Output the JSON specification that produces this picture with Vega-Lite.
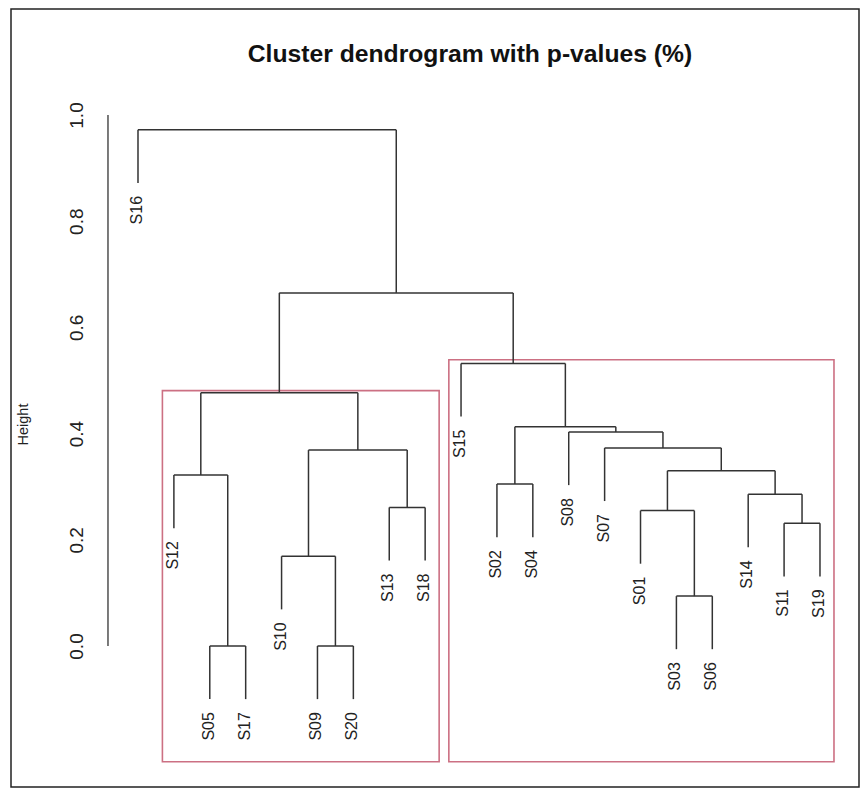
{
  "$schema": "https://vega.github.io/schema/vega-lite/v6.json",
  "width": 848,
  "height": 778,
  "padding": {"left": 11, "top": 9, "right": 4, "bottom": 1},
  "autosize": {"type": "none"},
  "background": "white",
  "title": {
    "text": "Cluster dendrogram with p-values (%)",
    "font": "Liberation Sans",
    "fontSize": 24.7,
    "fontWeight": "bold",
    "color": "#111",
    "anchor": "middle",
    "frame": "group",
    "offset": 0,
    "baseline": "alphabetic",
    "dy": 78,
    "dx": 35
  },
  "config": {
    "view": {"stroke": "#222", "strokeWidth": 1.5},
    "font": "Liberation Sans"
  },
  "datasets": {
    "segments": [
      {"node": "A", "x": 3, "x2": 4, "y": 0, "y2": 0},
      {"node": "A", "x": 3, "x2": 3, "y": -0.1, "y2": 0},
      {"node": "A", "x": 4, "x2": 4, "y": -0.1, "y2": 0},
      {"node": "B", "x": 6, "x2": 7, "y": 0, "y2": 0},
      {"node": "B", "x": 6, "x2": 6, "y": -0.1, "y2": 0},
      {"node": "B", "x": 7, "x2": 7, "y": -0.1, "y2": 0},
      {"node": "C", "x": 5, "x2": 6.5, "y": 0.169, "y2": 0.169},
      {"node": "C", "x": 5, "x2": 5, "y": 0.069, "y2": 0.169},
      {"node": "C", "x": 6.5, "x2": 6.5, "y": 0, "y2": 0.169},
      {"node": "D", "x": 8, "x2": 9, "y": 0.261, "y2": 0.261},
      {"node": "D", "x": 8, "x2": 8, "y": 0.161, "y2": 0.261},
      {"node": "D", "x": 9, "x2": 9, "y": 0.161, "y2": 0.261},
      {"node": "E", "x": 5.75, "x2": 8.5, "y": 0.369, "y2": 0.369},
      {"node": "E", "x": 5.75, "x2": 5.75, "y": 0.169, "y2": 0.369},
      {"node": "E", "x": 8.5, "x2": 8.5, "y": 0.261, "y2": 0.369},
      {"node": "F", "x": 2, "x2": 3.5, "y": 0.322, "y2": 0.322},
      {"node": "F", "x": 2, "x2": 2, "y": 0.222, "y2": 0.322},
      {"node": "F", "x": 3.5, "x2": 3.5, "y": 0, "y2": 0.322},
      {"node": "G", "x": 2.75, "x2": 7.125, "y": 0.477, "y2": 0.477},
      {"node": "G", "x": 2.75, "x2": 2.75, "y": 0.322, "y2": 0.477},
      {"node": "G", "x": 7.125, "x2": 7.125, "y": 0.369, "y2": 0.477},
      {"node": "H", "x": 16, "x2": 17, "y": 0.094, "y2": 0.094},
      {"node": "H", "x": 16, "x2": 16, "y": -0.006, "y2": 0.094},
      {"node": "H", "x": 17, "x2": 17, "y": -0.006, "y2": 0.094},
      {"node": "I", "x": 15, "x2": 16.5, "y": 0.255, "y2": 0.255},
      {"node": "I", "x": 15, "x2": 15, "y": 0.155, "y2": 0.255},
      {"node": "I", "x": 16.5, "x2": 16.5, "y": 0.094, "y2": 0.255},
      {"node": "J", "x": 19, "x2": 20, "y": 0.231, "y2": 0.231},
      {"node": "J", "x": 19, "x2": 19, "y": 0.131, "y2": 0.231},
      {"node": "J", "x": 20, "x2": 20, "y": 0.131, "y2": 0.231},
      {"node": "K", "x": 18, "x2": 19.5, "y": 0.286, "y2": 0.286},
      {"node": "K", "x": 18, "x2": 18, "y": 0.186, "y2": 0.286},
      {"node": "K", "x": 19.5, "x2": 19.5, "y": 0.231, "y2": 0.286},
      {"node": "L", "x": 15.75, "x2": 18.75, "y": 0.33, "y2": 0.33},
      {"node": "L", "x": 15.75, "x2": 15.75, "y": 0.255, "y2": 0.33},
      {"node": "L", "x": 18.75, "x2": 18.75, "y": 0.286, "y2": 0.33},
      {"node": "M", "x": 14, "x2": 17.25, "y": 0.373, "y2": 0.373},
      {"node": "M", "x": 14, "x2": 14, "y": 0.273, "y2": 0.373},
      {"node": "M", "x": 17.25, "x2": 17.25, "y": 0.33, "y2": 0.373},
      {"node": "N", "x": 13, "x2": 15.625, "y": 0.403, "y2": 0.403},
      {"node": "N", "x": 13, "x2": 13, "y": 0.303, "y2": 0.403},
      {"node": "N", "x": 15.625, "x2": 15.625, "y": 0.373, "y2": 0.403},
      {"node": "O", "x": 11, "x2": 12, "y": 0.305, "y2": 0.305},
      {"node": "O", "x": 11, "x2": 11, "y": 0.205, "y2": 0.305},
      {"node": "O", "x": 12, "x2": 12, "y": 0.205, "y2": 0.305},
      {"node": "P", "x": 11.5, "x2": 14.3125, "y": 0.413, "y2": 0.413},
      {"node": "P", "x": 11.5, "x2": 11.5, "y": 0.305, "y2": 0.413},
      {"node": "P", "x": 14.3125, "x2": 14.3125, "y": 0.403, "y2": 0.413},
      {"node": "Q", "x": 10, "x2": 12.90625, "y": 0.532, "y2": 0.532},
      {"node": "Q", "x": 10, "x2": 10, "y": 0.432, "y2": 0.532},
      {"node": "Q", "x": 12.90625, "x2": 12.90625, "y": 0.413, "y2": 0.532},
      {"node": "R", "x": 4.9375, "x2": 11.453125, "y": 0.665, "y2": 0.665},
      {"node": "R", "x": 4.9375, "x2": 4.9375, "y": 0.477, "y2": 0.665},
      {"node": "R", "x": 11.453125, "x2": 11.453125, "y": 0.532, "y2": 0.665},
      {"node": "S", "x": 1, "x2": 8.1953125, "y": 0.972, "y2": 0.972},
      {"node": "S", "x": 1, "x2": 1, "y": 0.872, "y2": 0.972},
      {"node": "S", "x": 8.1953125, "x2": 8.1953125, "y": 0.665, "y2": 0.972}
    ],
    "leaves": [
      {"label": "S16", "x": 1, "y": 0.872},
      {"label": "S12", "x": 2, "y": 0.222},
      {"label": "S05", "x": 3, "y": -0.1},
      {"label": "S17", "x": 4, "y": -0.1},
      {"label": "S10", "x": 5, "y": 0.069},
      {"label": "S09", "x": 6, "y": -0.1},
      {"label": "S20", "x": 7, "y": -0.1},
      {"label": "S13", "x": 8, "y": 0.161},
      {"label": "S18", "x": 9, "y": 0.161},
      {"label": "S15", "x": 10, "y": 0.432},
      {"label": "S02", "x": 11, "y": 0.205},
      {"label": "S04", "x": 12, "y": 0.205},
      {"label": "S08", "x": 13, "y": 0.303},
      {"label": "S07", "x": 14, "y": 0.273},
      {"label": "S01", "x": 15, "y": 0.155},
      {"label": "S03", "x": 16, "y": -0.006},
      {"label": "S06", "x": 17, "y": -0.006},
      {"label": "S14", "x": 18, "y": 0.186},
      {"label": "S11", "x": 19, "y": 0.131},
      {"label": "S19", "x": 20, "y": 0.131}
    ],
    "clusters": [
      {"cluster": "left", "x": 1.68, "x2": 9.39, "y": -0.218, "y2": 0.481},
      {"cluster": "right", "x": 9.66, "x2": 20.39, "y": -0.218, "y2": 0.539}
    ],
    "axisline": [
      {"x": 0.164, "y": 0, "y2": 1}
    ],
    "axisticks": [
      {"tick": 0, "y": 0},
      {"tick": 0.2, "y": 0.2},
      {"tick": 0.4, "y": 0.4},
      {"tick": 0.6, "y": 0.6},
      {"tick": 0.8, "y": 0.8},
      {"tick": 1.0, "y": 1.0}
    ]
  },
  "encoding": {
    "x": {"field": "x", "type": "quantitative", "scale": {"domain": [-2.538, 21.087], "nice": false, "zero": false}, "axis": null},
    "y": {
      "field": "y", "type": "quantitative",
      "scale": {"domain": [-0.2655, 1.1996], "nice": false, "zero": false},
      "axis": {
        "title": "Height",
        "values": [0, 0.2, 0.4, 0.6, 0.8, 1.0],
        "format": ".1f",
        "grid": false,
        "domain": false,
        "ticks": false,
        "offset": -97,
        "labelFont": "Liberation Sans",
        "labelFontSize": 19,
        "labelColor": "#222",
        "labelAngle": 270,
        "labelAlign": "center",
        "labelBaseline": "alphabetic",
        "labelPadding": 26,
        "titleFont": "Liberation Sans",
        "titleFontSize": 14.5,
        "titleFontWeight": "normal",
        "titleColor": "#222",
        "titleAngle": 270,
        "titleAlign": "center",
        "titleBaseline": "middle",
        "titleX": -85,
        "titleY": 415
      }
    }
  },
  "layer": [
    {
      "data": {"name": "axisline"},
      "mark": {"type": "rule", "color": "#333", "strokeWidth": 1.3},
      "encoding": {
        "y2": {"field": "y2"}
      }
    },
    {
      "data": {"name": "axisticks"},
      "mark": {"type": "tick", "orient": "horizontal", "color": "#333", "size": 10, "thickness": 1.3, "xOffset": -5},
      "encoding": {
        "x": {"datum": 0.164, "type": "quantitative", "scale": {"domain": [-2.538, 21.087], "nice": false, "zero": false}, "axis": null}
      }
    },
    {
      "data": {"name": "clusters"},
      "mark": {"type": "rect", "filled": false, "stroke": "#cc7083", "strokeWidth": 1.6},
      "encoding": {
        "x2": {"field": "x2"},
        "y2": {"field": "y2"}
      }
    },
    {
      "data": {"name": "segments"},
      "mark": {"type": "rule", "color": "#333", "strokeWidth": 1.5},
      "encoding": {
        "x2": {"field": "x2"},
        "y2": {"field": "y2"}
      }
    },
    {
      "data": {"name": "leaves"},
      "mark": {"type": "text", "angle": 270, "align": "right", "baseline": "middle", "dx": -13, "dy": -1, "fontSize": 16, "font": "Liberation Sans", "color": "#222"},
      "encoding": {
        "text": {"field": "label"}
      }
    }
  ]
}
